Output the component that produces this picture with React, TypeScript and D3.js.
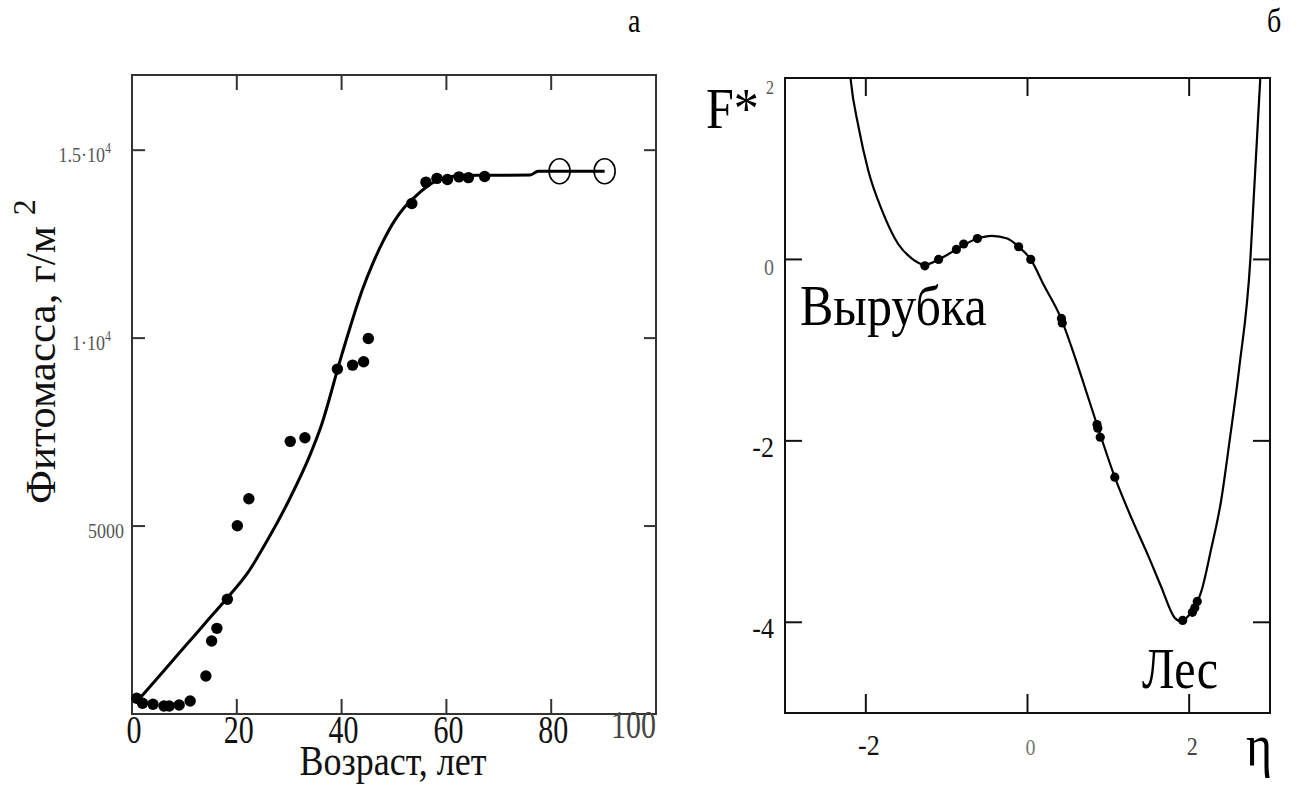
import React from 'react';
import * as d3 from 'd3';

// panel a: phytomass vs stand age
const ageTicks = [0, 20, 40, 60, 80, 100];
const massTicks = [5000, 10000, 15000];
const massTickLabels = ['5000', '1·10', '1.5·10'];
const massTickPow = ['', '4', '4'];

const obsAge = [0.9, 2.0, 4.0, 6.1, 7.1, 9.0, 11.1, 14.1, 15.2, 16.2, 18.2, 20.1, 22.3, 30.2, 33.0, 39.2, 42.1, 44.2, 45.1, 53.4, 56.1, 58.2, 60.2, 62.4, 64.2, 67.3];
const obsMass = [418, 285, 258, 213, 213, 240, 346, 1011, 1941, 2279, 3051, 5008, 5726, 7253, 7349, 9176, 9282, 9370, 9990, 13580, 14150, 14250, 14220, 14290, 14270, 14300];

const predAge = [81.6, 90.2];
const predMass = [14440, 14440];

const fitAge = [1.5, 6, 10, 14, 18, 22, 26, 30, 34, 36, 40, 44, 46, 48, 50, 52, 54, 56, 58, 60, 62, 66, 76, 77.5, 90.2];
const fitMass = [420, 1140, 1780, 2420, 3060, 3740, 4660, 5700, 6900, 7620, 9540, 11300, 12000, 12600, 13100, 13480, 13760, 14000, 14180, 14270, 14310, 14330, 14340, 14440, 14440];

// panel б: potential F*(eta)
const etaTicks = [-2, 0, 2];
const fTicks = [-4, -2, 0, 2];

const curveEta = [-2.22, -2.19, -2.09, -1.97, -1.80, -1.60, -1.43, -1.27, -1.10, -0.88, -0.62, -0.44, -0.25, -0.11, 0.04, 0.20, 0.42, 0.55, 0.67, 0.87, 1.08, 1.30, 1.49, 1.65, 1.82, 1.90, 2.0, 2.10, 2.15, 2.27, 2.395, 2.50, 2.62, 2.757, 2.80, 2.84, 2.88, 2.90];
const curveF = [2.3, 2.0, 1.46, 0.98, 0.54, 0.17, 0.01, -0.06, 0.0, 0.11, 0.23, 0.26, 0.23, 0.14, 0.0, -0.28, -0.66, -0.98, -1.30, -1.85, -2.40, -2.88, -3.26, -3.6, -3.95, -3.99, -3.92, -3.78, -3.66, -3.2, -2.66, -2.0, -1.19, 0, 0.7, 1.35, 2.0, 2.3];

const dotEta = [-1.27, -1.10, -0.88, -0.79, -0.62, -0.11, 0.04, 0.42, 0.43, 0.86, 0.87, 0.90, 1.08, 1.92, 2.04, 2.07, 2.10];
const dotF = [-0.07, 0.0, 0.11, 0.17, 0.23, 0.14, 0.0, -0.65, -0.70, -1.82, -1.86, -1.96, -2.40, -3.98, -3.89, -3.84, -3.77];

const serif = '"Liberation Serif", "Times New Roman", serif';

function T(props: any) {
  const { x, y, k = 1.2, size, anchor = 'start', fill = '#000', children } = props;
  return (
    <text transform={`translate(${x},${y}) scale(1,${k})`} fontSize={size} textAnchor={anchor}
      fill={fill} fontFamily={serif}>
      {children}
    </text>
  );
}

export default function App() {
  // panel a scales
  const xA = d3.scaleLinear().domain([0, 100]).range([132, 656]);
  const yA = d3.scaleLinear().domain([0, 17000]).range([714, 75]);
  const fitLine = d3.line<number>()
    .x((d, i) => xA(fitAge[i]))
    .y((d) => yA(d))
    .curve(d3.curveMonotoneX);

  // panel b scales
  const xB = d3.scaleLinear().domain([-3, 3]).range([785, 1270]);
  const yB = d3.scaleLinear().domain([-5, 2]).range([713, 78]);
  const potLine = d3.line<number>()
    .x((d, i) => xB(curveEta[i]))
    .y((d) => yB(d))
    .curve(d3.curveMonotoneX);

  const [ax0, ax1] = xA.range();
  const [ay0, ay1] = yA.range();
  const [bx0, bx1] = xB.range();
  const [by0, by1] = yB.range();

  const fStyle = (v: number) =>
    v === 2 ? { size: 16, fill: '#555' } : v === 0 ? { size: 20, fill: '#666' } : { size: 26, fill: '#111' };
  const etaStyle = (v: number) =>
    v === 0 ? { size: 20, fill: '#777' } : v === 2 ? { size: 22, fill: '#444' } : { size: 26, fill: '#111' };

  return (
    <svg width={1297} height={785} style={{ position: 'absolute', left: 0, top: 0, background: '#fff' }}>
      <defs>
        <clipPath id="clipB">
          <rect x={bx0} y={by1} width={bx1 - bx0} height={by0 - by1} />
        </clipPath>
      </defs>

      {/* panel letters */}
      <T x={628} y={32} size={28} k={1.2}>а</T>
      <T x={1267} y={32} size={28} k={1.2}>б</T>

      {/* ---------- panel a ---------- */}
      <g>
        <rect x={ax0} y={ay1} width={ax1 - ax0} height={ay0 - ay1} fill="none" stroke="#333" strokeWidth={2} />
        {ageTicks.slice(1, -1).map((t) => (
          <g key={'at' + t} stroke="#333" strokeWidth={2}>
            <line x1={xA(t)} x2={xA(t)} y1={ay0} y2={ay0 - 15} />
            <line x1={xA(t)} x2={xA(t)} y1={ay1} y2={ay1 + 15} />
          </g>
        ))}
        {massTicks.map((t) => (
          <g key={'mt' + t} stroke="#333" strokeWidth={2}>
            <line x1={ax0} x2={ax0 + 13} y1={yA(t)} y2={yA(t)} />
            <line x1={ax1} x2={ax1 - 12} y1={yA(t)} y2={yA(t)} />
          </g>
        ))}
        {ageTicks.map((t, i) =>
          i === ageTicks.length - 1 ? (
            <T key={'al' + t} x={xA(t)} y={738} size={30} k={1.3} anchor="end" fill="#444">{t}</T>
          ) : (
            <T key={'al' + t} x={xA(t) + 2} y={743} size={30} k={1.3} anchor="middle" fill="#111">{t}</T>
          )
        )}
        {massTicks.map((t, i) => (
          <T key={'ml' + t} x={massTickPow[i] ? 111 : 124} y={yA(t) + 12} size={18} k={1.2} anchor="end" fill="#555">
            {massTickLabels[i]}
            {massTickPow[i] && <tspan fontSize={12} dy={-8}>{massTickPow[i]}</tspan>}
          </T>
        ))}

        <path d={fitLine(fitMass) || ''} fill="none" stroke="#000" strokeWidth={3} />
        {obsAge.map((a, i) => (
          <circle key={'o' + i} cx={xA(a)} cy={yA(obsMass[i])} r={5.7} fill="#000" />
        ))}
        {predAge.map((a, i) => (
          <ellipse key={'p' + i} cx={xA(a)} cy={yA(predMass[i])} rx={10.5} ry={12.5} fill="none" stroke="#000" strokeWidth={1.6} />
        ))}

        <text transform="translate(55,504) rotate(-90)" fontSize={43} fontFamily={serif} fill="#111">
          Фитомасса, г/м <tspan fontSize={32} dy={-20}>2</tspan>
        </text>
        <T x={393} y={775} size={36} k={1.2} anchor="middle" fill="#111">Возраст, лет</T>
      </g>

      {/* ---------- panel b ---------- */}
      <g>
        <path d={potLine(curveF) || ''} fill="none" stroke="#000" strokeWidth={2.2} clipPath="url(#clipB)" />
        {dotEta.map((e, i) => (
          <circle key={'d' + i} cx={xB(e)} cy={yB(dotF[i])} r={4.6} fill="#000" />
        ))}
        <rect x={bx0} y={by1} width={bx1 - bx0} height={by0 - by1} fill="none" stroke="#111" strokeWidth={2} />
        {etaTicks.map((t) => (
          <g key={'et' + t} stroke="#111" strokeWidth={2}>
            <line x1={xB(t)} x2={xB(t)} y1={by0} y2={by0 - 19} />
            <line x1={xB(t)} x2={xB(t)} y1={by1} y2={by1 + 18} />
          </g>
        ))}
        {fTicks.map((t) => (
          <g key={'ft' + t} stroke="#111" strokeWidth={2}>
            <line x1={bx0} x2={bx0 + 17} y1={yB(t)} y2={yB(t)} />
            <line x1={bx1} x2={bx1 - 17} y1={yB(t)} y2={yB(t)} />
          </g>
        ))}
        {fTicks.map((t) => {
          const s = fStyle(t);
          return (
            <T key={'fl' + t} x={774} y={yB(t) + 16} size={s.size} k={1.15} anchor="end" fill={s.fill}>{t}</T>
          );
        })}
        {etaTicks.map((t) => {
          const s = etaStyle(t);
          return (
            <T key={'el' + t} x={xB(t) + 3} y={755} size={s.size} k={1.15} anchor="middle" fill={s.fill}>{t}</T>
          );
        })}

        <T x={706} y={128} size={50} k={1.15}>F*</T>
        <T x={800} y={325} size={50} k={1.14}>Вырубка</T>
        <T x={1142} y={688} size={48} k={1.2}>Лес</T>
        <T x={1246} y={765} size={50} k={1.2}>η</T>
      </g>
    </svg>
  );
}
